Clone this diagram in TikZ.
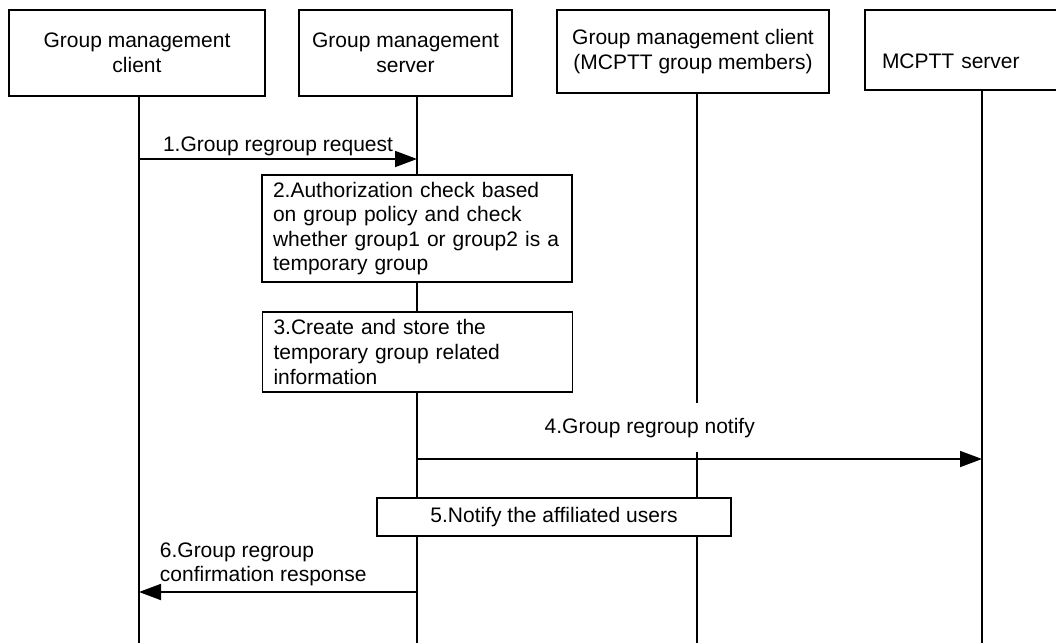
\documentclass[tikz,border=0pt]{standalone}
\usepackage{fontspec}
\setmainfont{Liberation Sans}
\usetikzlibrary{positioning,arrows.meta}

\begin{document}
\begin{tikzpicture}[x=0.5pt, y=-0.5pt, line width=0.9pt,
    every node/.style={font=\fontsize{10.5pt}{12.3pt}\selectfont},
    entity/.style={draw, fill=white, align=center, inner sep=0pt},
    action/.style={draw, fill=white, align=left, text width=144pt, inner xsep=5.5pt, inner ysep=0pt},
    msg/.style={-{Triangle[length=11pt,width=8pt]}},
    lbl/.style={inner sep=1pt, align=left}]
  \useasboundingbox (0,0) rectangle (1056,643);
  % lifelines
  \coordinate (l1top) at (139,96);  \coordinate (l1end) at (139,643);
  \coordinate (l2top) at (417,96);  \coordinate (l2end) at (417,643);
  \coordinate (l3top) at (697,93);  \coordinate (l3gap) at (697,403);
  \coordinate (l3low) at (697,452); \coordinate (l3end) at (697,643);
  \coordinate (l4top) at (982,90);  \coordinate (l4end) at (982,643);
  \draw (l1top) -- (l1end);
  \draw (l2top) -- (l2end);
  \draw (l3top) -- (l3gap);
  \draw (l3low) -- (l3end);
  \draw (l4top) -- (l4end);
  % entities
  \node[entity, minimum width=128pt, minimum height=43pt] (gmc) at (137,53) {Group management\\client};
  \node[entity, minimum width=106.5pt, minimum height=43pt] (gms) at (405.5,53) {Group management\\server};
  \node[entity, minimum width=136pt, minimum height=41.5pt] (gmm) at (693,51.5) {Group management client\\(MCPTT group members)};
  \node[entity, minimum width=105pt, minimum height=40pt, align=left, text width=88pt, inner xsep=8.5pt,
        text height=18.5pt, text depth=0pt] (mcptt) at (970,50) {MCPTT server};
  % messages
  \coordinate (r1a) at (139,159); \coordinate (r1b) at (417,159);
  \draw[msg] (r1a) -- node[lbl, above] (m1) {1.Group regroup request} (r1b);
  \node[action, minimum height=53.5pt] (check) at (417,228.5) {2.Authorization check based\\on group policy and check\\whether group1 or group2 is a\\temporary group};
  \node[action, minimum height=40pt] (store) at (417.5,352) {3.Create and store the\\temporary group related\\information};
  \coordinate (r4a) at (417,459); \coordinate (r4b) at (982,459);
  \draw[msg] (r4a) -- node[lbl, above=9pt, pos=0.412] (m4) {4.Group regroup notify} (r4b);
  \node[draw, fill=white, minimum width=177pt, minimum height=19pt, inner sep=0pt] (notify) at (554,517) {5.Notify the affiliated users};
  \coordinate (r6a) at (417,592); \coordinate (r6b) at (139,592);
  \draw[msg] (r6a) -- (r6b);
  \node[lbl, anchor=south west] (m6) at (157,589) {6.Group regroup\\confirmation response};
\end{tikzpicture}
\end{document}
